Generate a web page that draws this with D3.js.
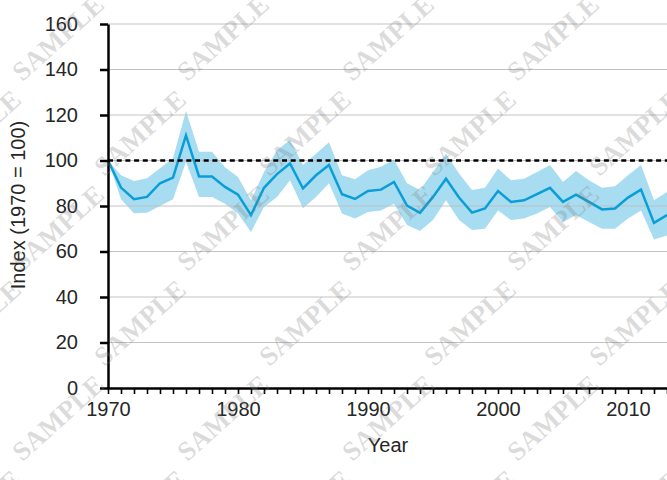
<!DOCTYPE html>
<html><head><meta charset="utf-8">
<script src="https://cdn.jsdelivr.net/npm/d3@7"></script>
<style>
html,body{margin:0;padding:0;background:#fff;}
svg{display:block;}
</style></head>
<body>
<svg id="chart" width="667" height="480"></svg>
<script>
const years = d3.range(1970, 2014);
const indexValues = [100, 88.1, 83, 84, 90, 92.5, 111, 93, 93, 88.4, 85, 76, 88, 94, 98.7, 87.7, 93.5, 98, 85.2, 83.1, 86.6, 87.2, 90.6, 80.2, 77, 84, 92, 83.7, 77.1, 78.9, 86.6, 81.8, 82.5, 85.2, 88, 81.8, 85, 81.8, 78.5, 78.9, 83.7, 87.2, 72.6, 76];
const upperValues = [100, 93.5, 91, 92.2, 96.6, 101, 121.8, 103.8, 103.8, 97, 92.8, 82.5, 95, 104.5, 109, 98, 103, 108, 93.5, 91.8, 95.7, 97.2, 100.4, 90, 87, 95, 103, 94.3, 87, 88, 96.5, 91.3, 92, 95, 98, 90.6, 95.4, 91.3, 88, 88.7, 93.5, 98, 82.5, 86.2];
const lowerValues = [100, 83, 76.8, 77, 80, 83, 99.4, 84, 84, 81, 76.7, 68.6, 79.6, 84, 91.3, 79, 84, 90, 76.7, 74.5, 77.4, 78, 81, 71.6, 69, 73.8, 82.5, 73.8, 69.4, 70, 78, 73.8, 74.5, 76.7, 79.6, 73, 76, 73, 70, 70, 74.5, 78, 65.3, 67];
const yTicks = [0, 20, 40, 60, 80, 100, 120, 140, 160];
const xLabelYears = [1970, 1980, 1990, 2000, 2010];
const baseline = 100;
const xTitle = "Year";
const yTitle = "Index (1970 = 100)";
const watermark = "SAMPLE";

(function () {
const svg = d3.select("#chart");
const W = 667, H = 480;
const mLeft = 108, mRight = 667, mTop = 24, mBottom = 388;
const font = "'Liberation Sans', Arial, sans-serif";
const txt = "#262626";

const x = d3.scaleLinear().domain([1970, 2013]).range([mLeft, mRight]);
const y = d3.scaleLinear().domain([0, 160]).range([mBottom, mTop]);

const data = years.map((yr, i) => ({yr, v: indexValues[i], hi: upperValues[i], lo: lowerValues[i]}));

// band
svg.append("path").datum(data)
  .attr("d", d3.area().x(d => x(d.yr)).y0(d => y(d.lo)).y1(d => y(d.hi)))
  .attr("fill", "#a8ddf1");

// gridlines
svg.append("g").selectAll("line").data(yTicks.filter(t => t > 0)).join("line")
  .attr("x1", mLeft).attr("x2", W)
  .attr("y1", d => y(d)).attr("y2", d => y(d))
  .attr("stroke", "#bdbdbd").attr("stroke-width", 1).attr("opacity", 0.9);

// line
svg.append("path").datum(data)
  .attr("d", d3.line().x(d => x(d.yr)).y(d => y(d.v)))
  .attr("fill", "none").attr("stroke", "#0a9ed8").attr("stroke-width", 2.5)
  .attr("stroke-linejoin", "miter");

// baseline dashed
svg.append("line")
  .attr("x1", mLeft).attr("x2", W)
  .attr("y1", y(baseline)).attr("y2", y(baseline))
  .attr("stroke", "#000").attr("stroke-width", 2.5)
  .attr("stroke-dasharray", "5,3.7");

// y axis
const yAxis = svg.append("g").attr("transform", `translate(${mLeft},0)`)
  .call(d3.axisLeft(y).tickValues(yTicks).tickSize(8).tickPadding(22).tickSizeOuter(0));
yAxis.select(".domain").attr("stroke", "#000").attr("stroke-width", 2.5);
yAxis.selectAll(".tick line").attr("stroke", "#000").attr("stroke-width", 2.5);
yAxis.selectAll(".tick text").attr("font-family", font).attr("font-size", 20).attr("fill", txt);

// x axis
const xAxis = svg.append("g").attr("transform", `translate(0,${mBottom})`)
  .call(d3.axisBottom(x).tickValues(years).tickSize(6).tickPadding(8).tickSizeOuter(0)
    .tickFormat(d => xLabelYears.includes(d) ? String(d) : ""));
xAxis.select(".domain").attr("stroke", "#000").attr("stroke-width", 2.5);
xAxis.selectAll(".tick line").attr("stroke", "#000").attr("stroke-width", 1.6);
xAxis.selectAll(".tick text").attr("font-family", font).attr("font-size", 20).attr("fill", txt);

// titles
svg.append("text").attr("x", 388).attr("y", 452).attr("text-anchor", "middle")
  .attr("font-family", font).attr("font-size", 20).attr("fill", txt).text(xTitle);
svg.append("text").attr("transform", "translate(25,205) rotate(-90)").attr("text-anchor", "middle")
  .attr("font-family", font).attr("font-size", 20).attr("fill", txt).text(yTitle);

// watermark
const wm = svg.append("g").attr("pointer-events", "none");
for (let j = -1; j < 7; j++) {
  for (let i = -1; i < 6; i++) {
    const cx = i * 165 + ((j % 2 + 2) % 2) * 82 + 60;
    const cy = j * 95 + 40;
    wm.append("text")
      .attr("transform", `translate(${cx},${cy}) rotate(-42)`)
      .attr("text-anchor", "middle").attr("dominant-baseline", "middle")
      .attr("font-family", "'Liberation Serif', 'DejaVu Serif', serif")
      .attr("font-weight", "bold").attr("font-size", 27)
      .attr("fill", "#808080").attr("fill-opacity", 0.28)
      .text(watermark);
  }
}
})();
</script>
</body></html>
